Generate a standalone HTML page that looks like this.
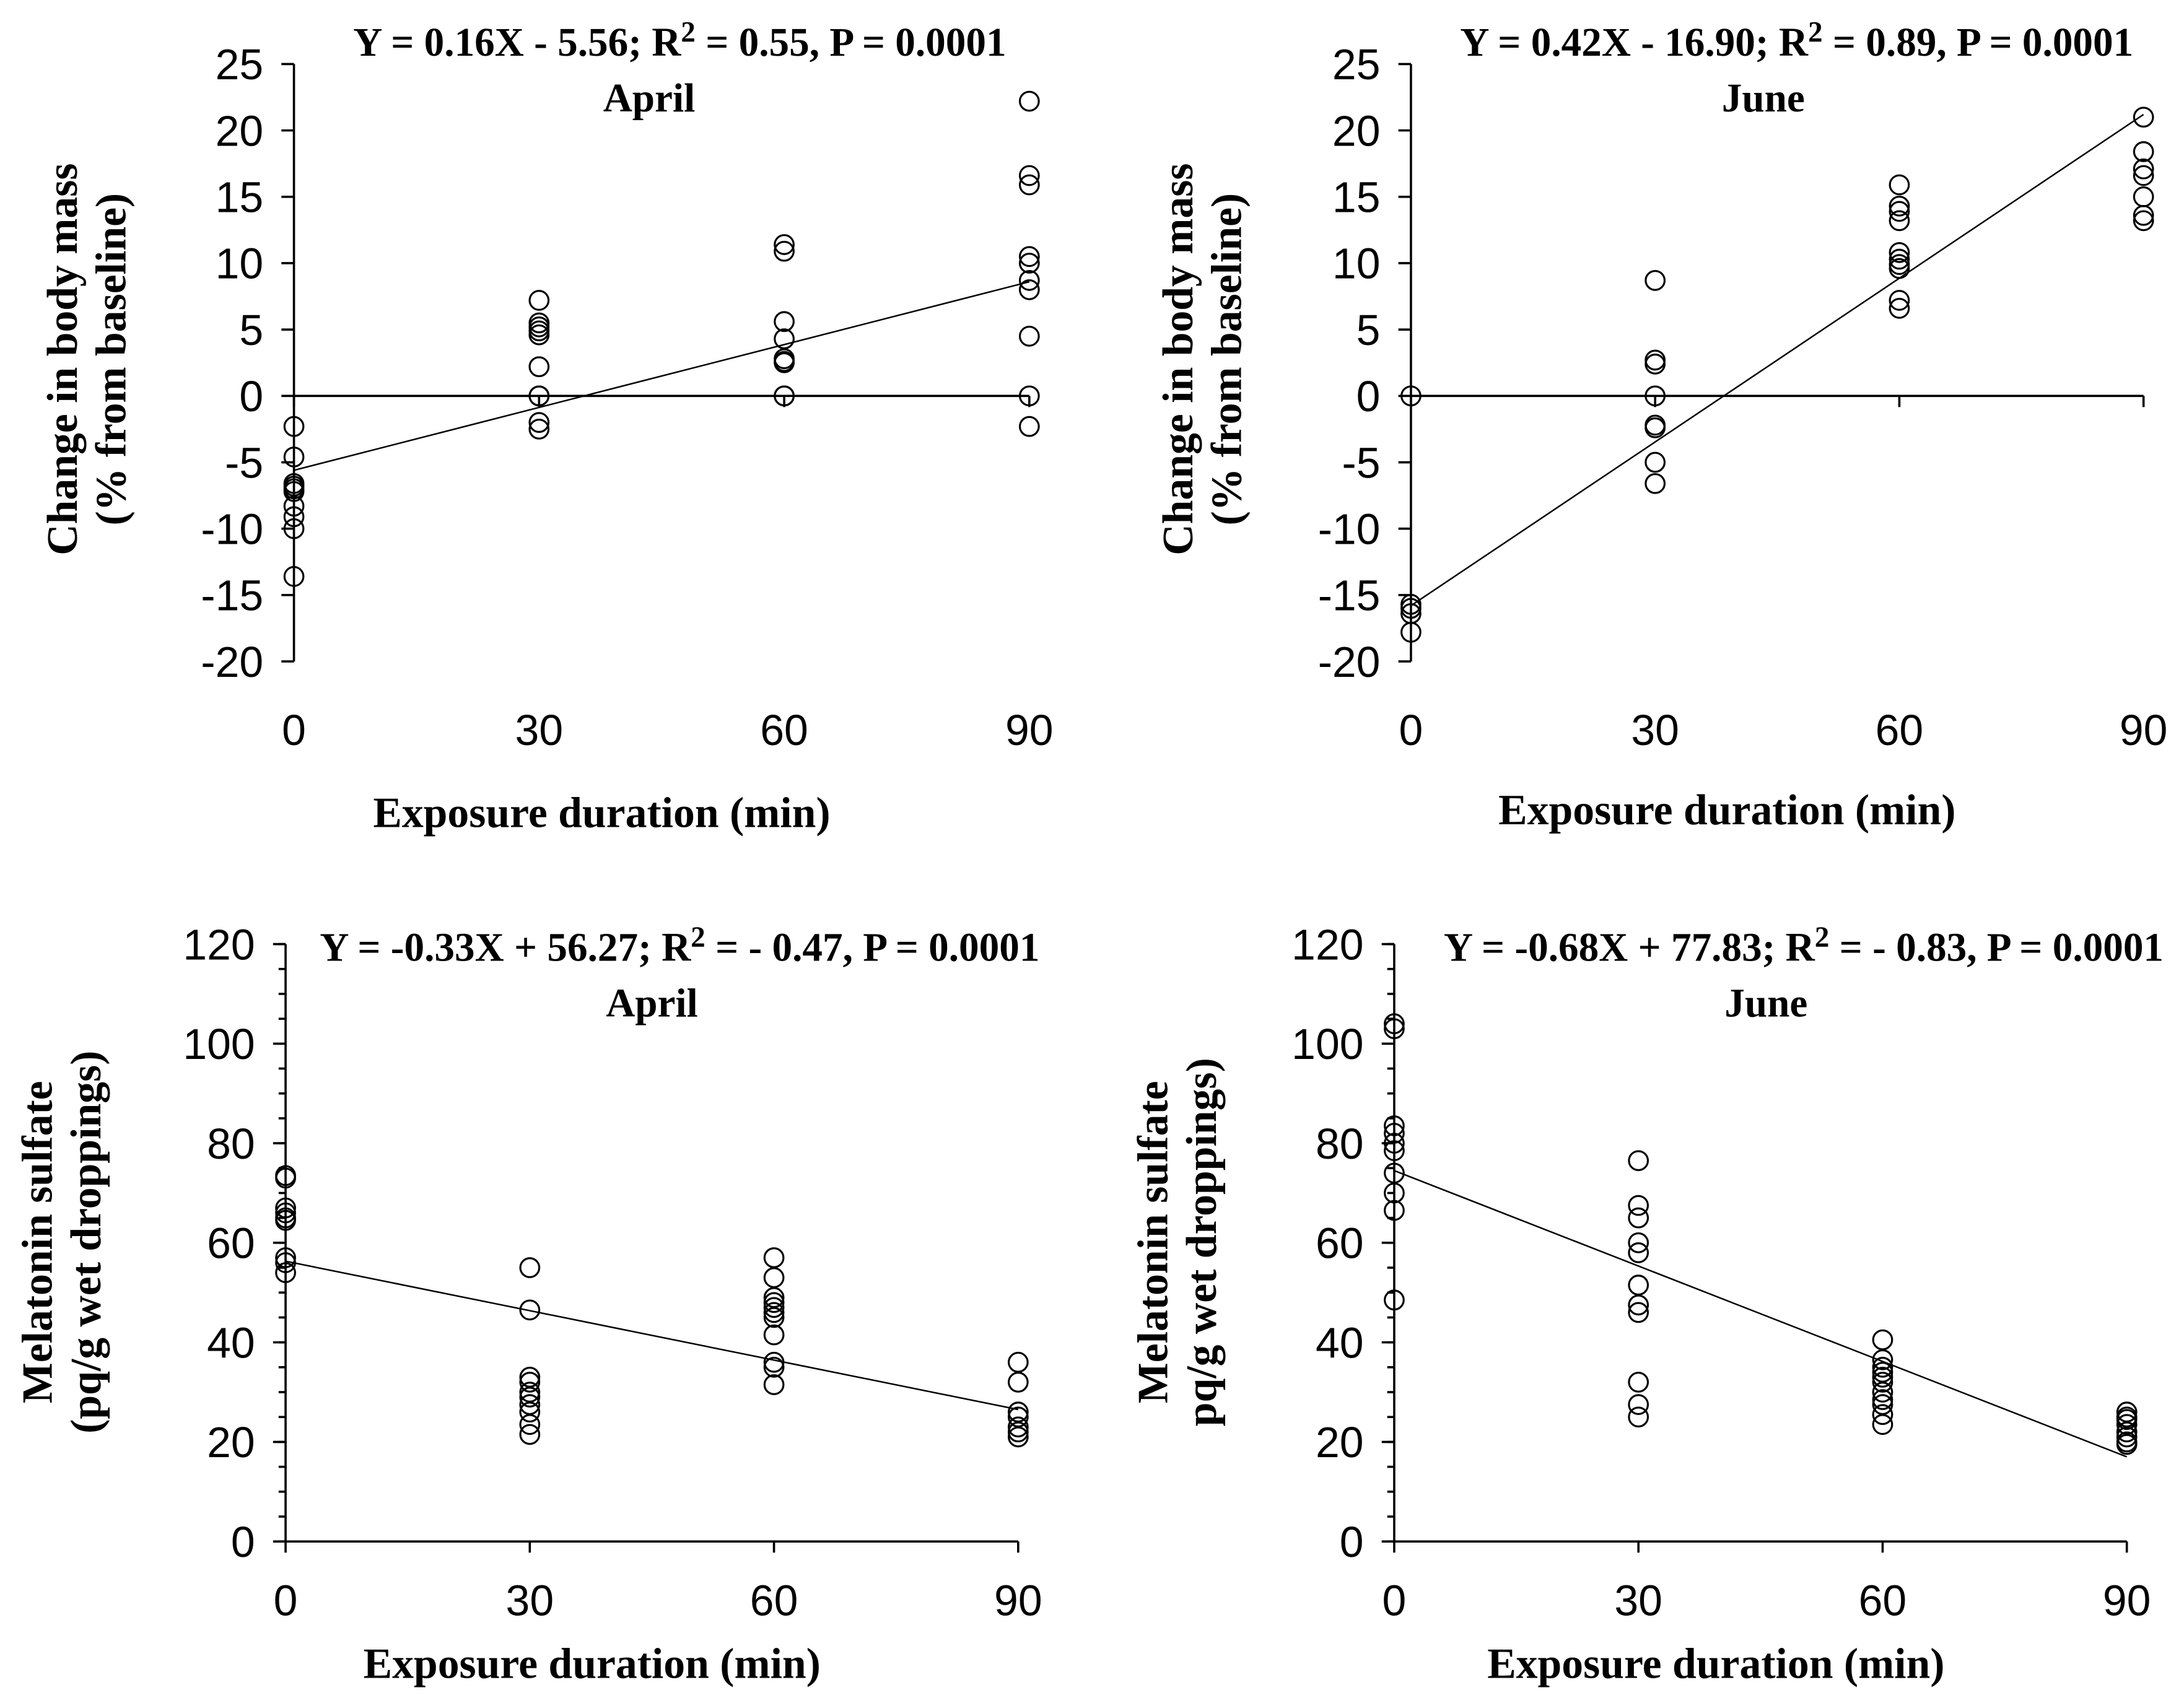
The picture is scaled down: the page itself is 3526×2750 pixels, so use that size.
<!DOCTYPE html>
<html><head><meta charset="utf-8"><style>
html,body{margin:0;padding:0;background:#fff}
svg{display:block}
.tk{font-family:"Liberation Sans",sans-serif;font-size:31px;fill:#000}
.tt{font-family:"Liberation Serif",serif;font-weight:bold;font-size:29px;fill:#000}
.ax{font-family:"Liberation Serif",serif;font-weight:bold;font-size:31px;fill:#000}
</style></head><body>
<svg id="fig" width="3526" height="2750" viewBox="0 0 1568 1223" xmlns="http://www.w3.org/2000/svg"></svg>
<script>
// Panel 1: April body mass
const p1X0 = [-2.3,-4.6,-6.6,-6.8,-7.0,-7.2,-8.3,-9.1,-10.0,-13.6];
const p1X30 = [7.2,5.5,5.2,4.9,4.6,2.2,0,0,-2.0,-2.5];
const p1X60 = [11.4,10.9,5.6,4.3,2.8,2.6,2.5,0,0];
const p1X90 = [22.2,16.6,15.9,10.5,10.0,8.7,8.0,4.5,0,-2.3];
const p1Line = [-5.6, 8.6];
// Panel 2: June body mass
const p2X0 = [0,-15.7,-16.0,-16.4,-17.8];
const p2X30 = [8.7,2.7,2.4,0,-2.2,-2.4,-5.0,-6.6];
const p2X60 = [15.9,14.3,13.9,13.2,10.8,10.3,9.9,9.6,7.2,6.6];
const p2X90 = [21.0,18.4,17.1,16.6,15.0,13.6,13.2];
const p2Line = [-15.8, 21.2];
// Panel 3: April melatonin
const p3X0 = [73.5,73,67,66,65,64.5,57,56,54];
const p3X30 = [55,46.5,33,32,30,29,27.5,26,23.5,21.5];
const p3X60 = [57,53,49,48,47,46,45,41.5,36,35,31.5];
const p3X90 = [36,32,26,25,23,22,21];
const p3Line = [56.3, 26.5];
// Panel 4: June melatonin
const p4X0 = [104,103,83.5,82,80,78.5,74,70,66.5,48.5];
const p4X30 = [76.5,67.5,65,60,58,51.5,47.5,46,32,27.5,25];
const p4X60 = [40.5,36.5,35,34,33,32,30,28.5,27.5,25.5,23.5];
const p4X90 = [26,25,24.5,23.5,22,21,20,19.5];
const p4Line = [74.5, 17];
const xCats = [0,30,60,90];
const massTicks = [25,20,15,10,5,0,-5,-10,-15,-20];
const melTicks = [120,100,80,60,40,20,0];

const NS="http://www.w3.org/2000/svg";
const svg=document.getElementById('fig');
function mk(tag,attrs,parent,text){const e=document.createElementNS(NS,tag);for(const k in attrs)e.setAttribute(k,attrs[k]);if(text!==undefined)e.textContent=text;(parent||svg).appendChild(e);return e;}

function panel(cfg){
  const g=mk('g',{});
  
  
  const xs=v=>cfg.ax+(v-0)/90*(cfg.ax90-cfg.ax);
  const ys=v=>cfg.yTop+(cfg.yMax-v)/(cfg.yMax-cfg.yMin)*(cfg.yBot-cfg.yTop);
  const st={stroke:'#000','stroke-width':1.6,fill:'none'};
  const yAxis=mk('line',Object.assign({x1:cfg.ax,x2:cfg.ax,y1:ys(cfg.yMax),y2:ys(cfg.yMin)},st),g);
  
  
  const xAxis=mk('line',Object.assign({x1:cfg.ax,x2:xs(90),y1:ys(0),y2:ys(0)},st),g);
  
  
  cfg.ticks.forEach(t=>{
    mk('line',Object.assign({x1:cfg.ax-9,x2:cfg.ax,y1:ys(t),y2:ys(t)},st),g);
    const tl=mk('text',{x:cfg.ax-22,y:ys(t)+11,'text-anchor':'end',class:'tk'},g,String(t));
    
    
  });
  if(cfg.minor){for(let v=cfg.yMin;v<=cfg.yMax;v+=cfg.minor){mk('line',Object.assign({x1:cfg.ax-5,x2:cfg.ax,y1:ys(v),y2:ys(v)},st),g);}}
  xCats.forEach(c=>{
    mk('line',Object.assign({x1:xs(c),x2:xs(c),y1:ys(0),y2:ys(0)+8},st),g);
    const tl=mk('text',{x:xs(c),y:cfg.xLabY,'text-anchor':'middle',class:'tk'},g,String(c));
    
    
  });
  const tr=mk('line',{x1:xs(0),y1:ys(cfg.line[0]),x2:xs(90),y2:ys(cfg.line[1]),stroke:'#000','stroke-width':1.1},g);
  
  
  cfg.series.forEach((arr,i)=>{arr.forEach(v=>{
    const c=mk('circle',{cx:xs(xCats[i]),cy:ys(v),r:6.8,fill:'none',stroke:'#000','stroke-width':1.4},g);
    
    
  });});
  const eq=mk('text',{x:cfg.eqX,y:cfg.eqY,'text-anchor':'middle',class:'tt'},g);
  
  
  mk('tspan',{},eq,cfg.eq[0]);
  mk('tspan',{dy:-10,'font-size':21},eq,'2');
  mk('tspan',{dy:10},eq,cfg.eq[1]);
  const mo=mk('text',{x:cfg.moX,y:cfg.eqY+40,'text-anchor':'middle',class:'tt'},g,cfg.month);
  
  
  const xt=mk('text',{x:cfg.xtX,y:cfg.xtY,'text-anchor':'middle',class:'ax'},g,'Exposure duration (min)');
  
  
  cfg.yt.forEach((s,i)=>{
    const t=mk('text',{x:0,y:0,'text-anchor':'middle',class:'ax',transform:`translate(${cfg.ytX[i]},${cfg.ytY}) rotate(-90)`},g,s);
    
    
  });
}
panel({name:'april-body-mass-panel',ax:211,ax90:739,yTop:46,yBot:475,yMax:25,yMin:-20,ticks:massTicks,xLabY:535,
  series:[p1X0,p1X30,p1X60,p1X90],line:p1Line,eq:['Y = 0.16X - 5.56; R',' = 0.55, P = 0.0001'],eqX:488,eqY:40,moX:466,month:'April',
  xtX:432,xtY:594,yt:['Change in body mass','(% from baseline)'],ytX:[55,90],ytY:258});
panel({name:'june-body-mass-panel',ax:1013,ax90:1539,yTop:46,yBot:475,yMax:25,yMin:-20,ticks:massTicks,xLabY:535,
  series:[p2X0,p2X30,p2X60,p2X90],line:p2Line,eq:['Y = 0.42X - 16.90; R',' = 0.89, P = 0.0001'],eqX:1290,eqY:40,moX:1266,month:'June',
  xtX:1240,xtY:592,yt:['Change in body mass','(% from baseline)'],ytX:[856,891],ytY:258});
panel({name:'april-melatonin-panel',ax:205,ax90:731,yTop:678,yBot:1107,yMax:120,yMin:0,ticks:melTicks,minor:5,xLabY:1160,
  series:[p3X0,p3X30,p3X60,p3X90],line:p3Line,eq:['Y = -0.33X + 56.27; R',' = - 0.47, P = 0.0001'],eqX:488,eqY:690,moX:468,month:'April',
  xtX:425,xtY:1205,yt:['Melatonin sulfate','(pq/g wet droppings)'],ytX:[37,72],ytY:892});
panel({name:'june-melatonin-panel',ax:1001,ax90:1527,yTop:678,yBot:1107,yMax:120,yMin:0,ticks:melTicks,minor:5,xLabY:1160,
  series:[p4X0,p4X30,p4X60,p4X90],line:p4Line,eq:['Y = -0.68X + 77.83; R',' = - 0.83, P = 0.0001'],eqX:1295,eqY:690,moX:1268,month:'June',
  xtX:1232,xtY:1205,yt:['Melatonin sulfate','pq/g wet droppings)'],ytX:[838,873],ytY:892});
</script>
</body></html>
